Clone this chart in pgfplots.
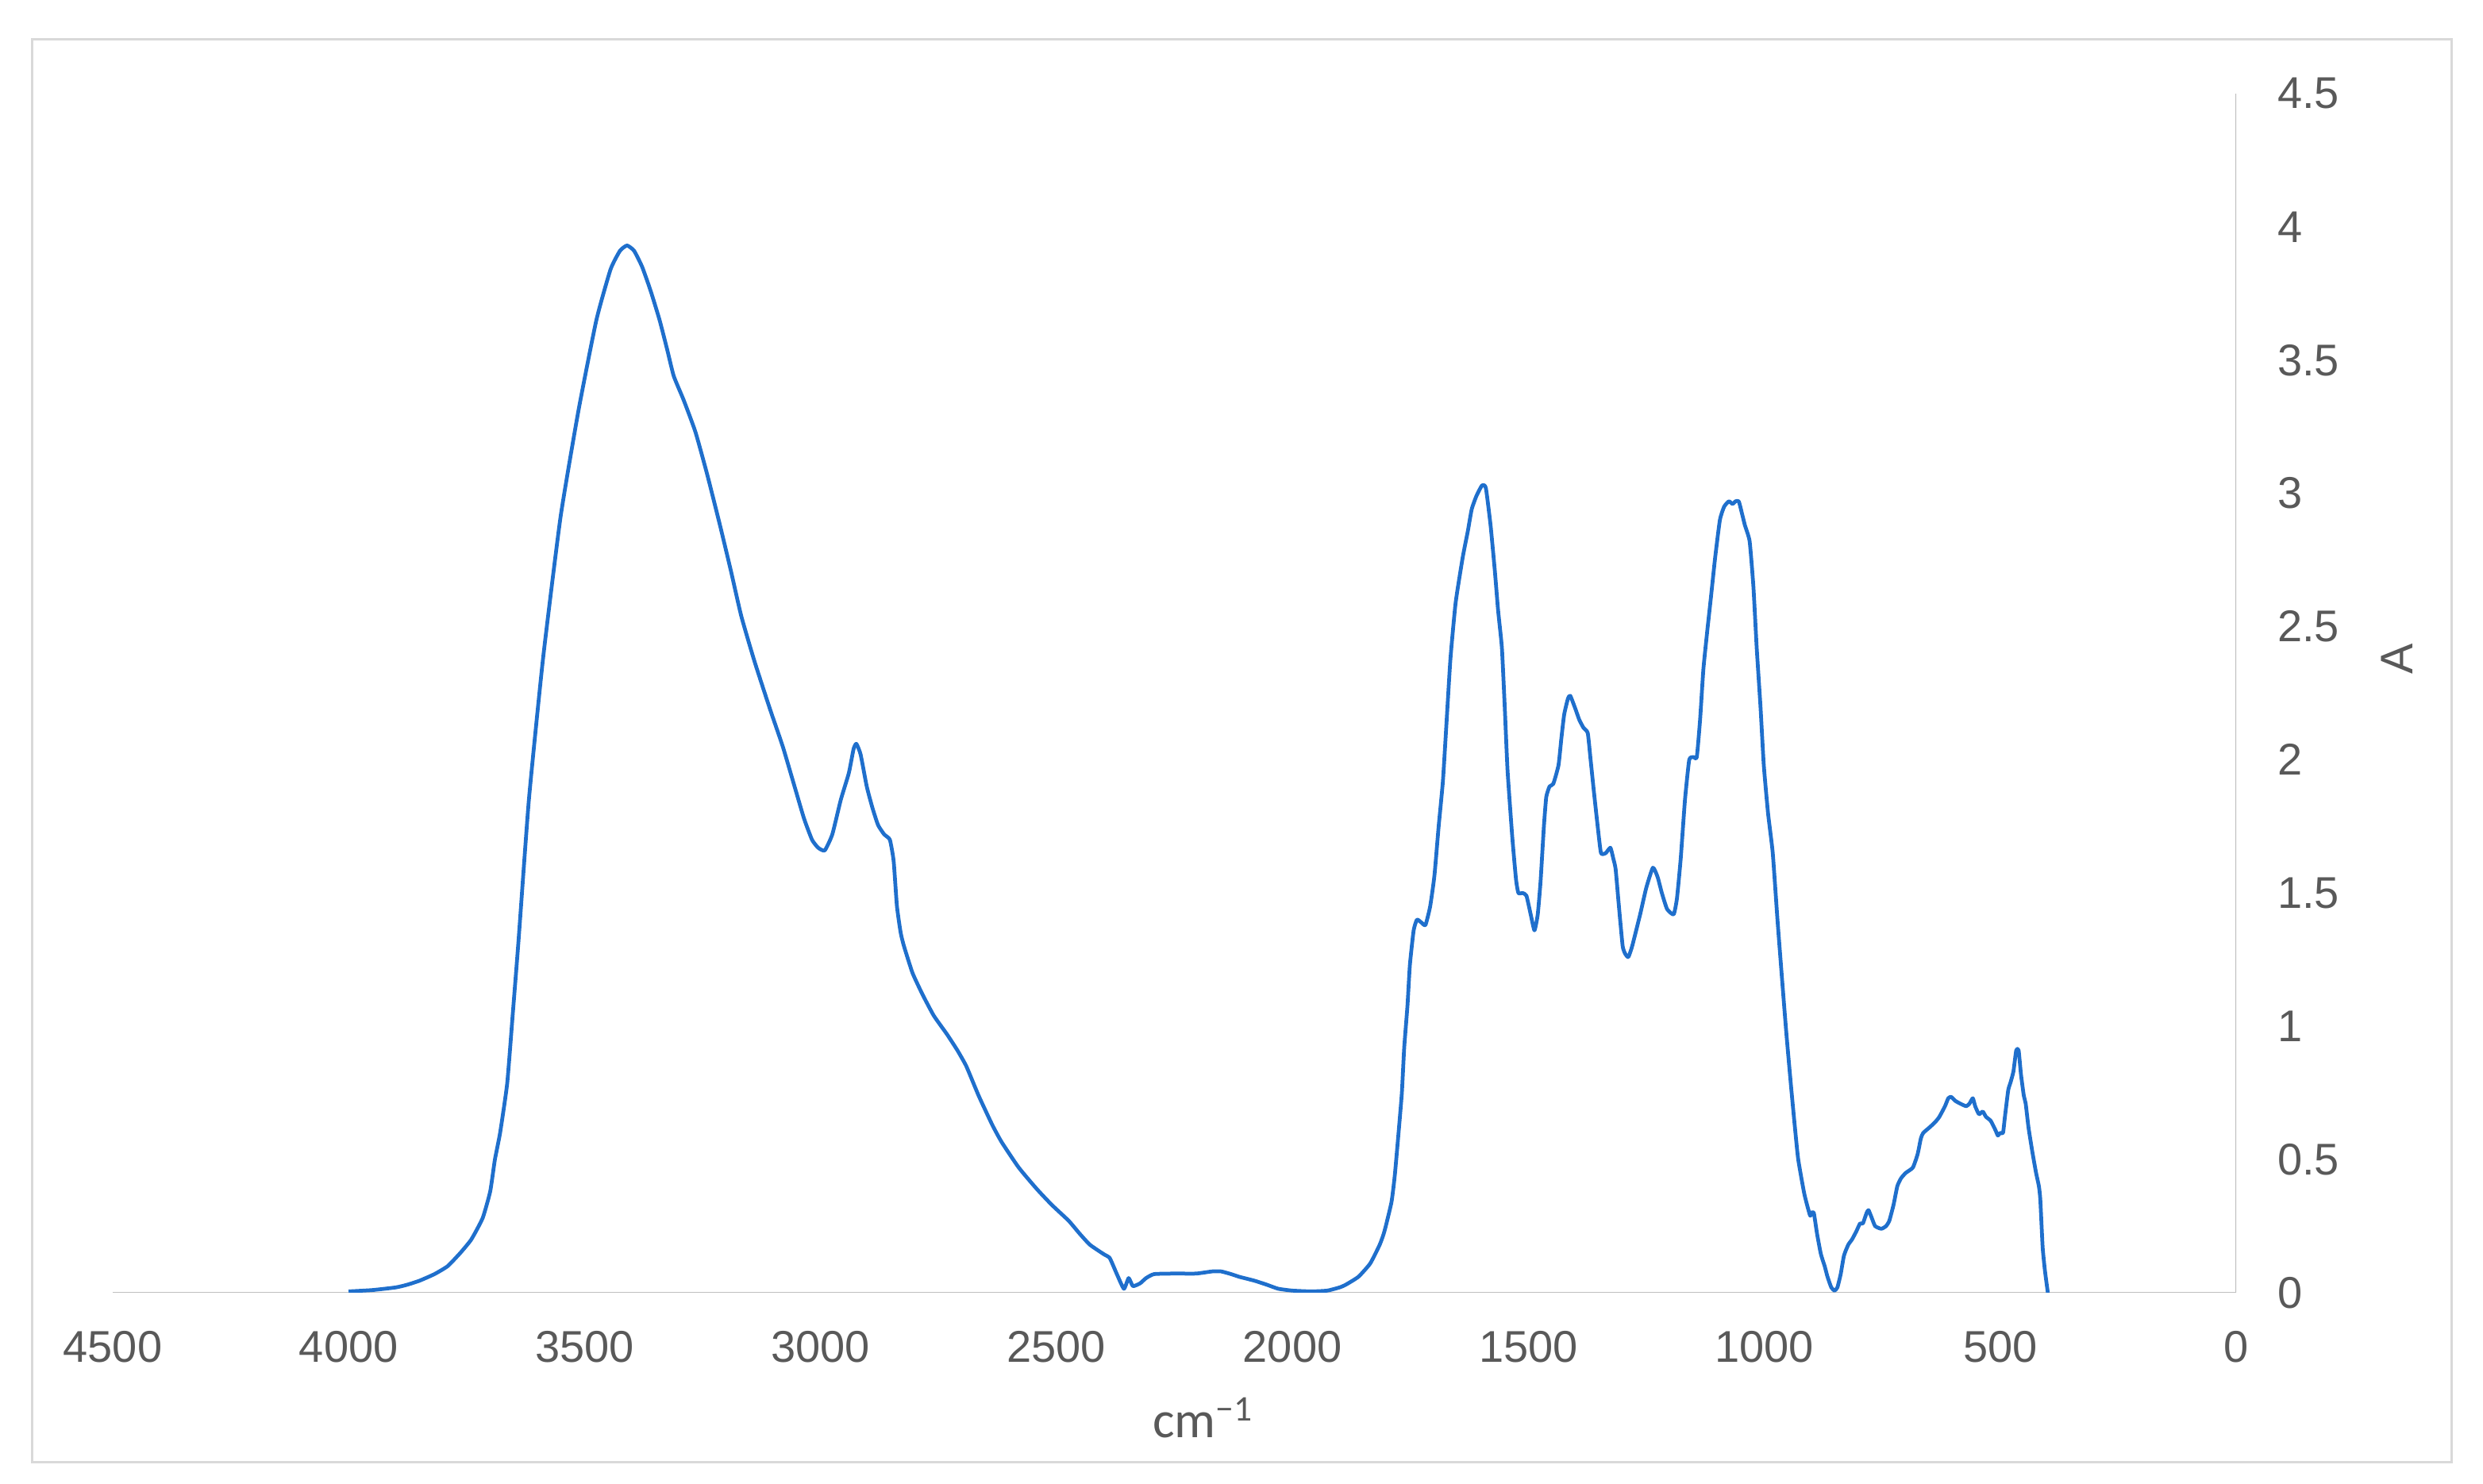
\documentclass[border=0pt]{standalone}
\usepackage{fontspec}
\setmainfont{Liberation Sans}
\newfontfamily\calfont{Carlito}
\usepackage{pgfplots}
\pgfplotsset{compat=1.18}
\usepackage{pgfplotstable}
\definecolor{txtgray}{HTML}{595959}
\definecolor{axgray}{HTML}{BFBFBF}
\definecolor{framegray}{HTML}{D9D9D9}
\definecolor{lineblue}{HTML}{1F6FCC}

\pgfplotstableread{
x y
4000 0.005
3950 0.01
3900 0.02
3876 0.03
3850 0.045
3818 0.07
3790 0.1
3763 0.15
3740 0.2
3716 0.28
3700 0.38
3690 0.5
3679 0.6
3664 0.785
3652 1.05
3640 1.32
3618 1.85
3588 2.38
3551 2.91
3513 3.31
3475 3.65
3445 3.84
3425 3.91
3410 3.93
3395 3.91
3378 3.85
3360 3.76
3341 3.65
3325 3.54
3311 3.44
3290 3.35
3265 3.23
3240 3.07
3213 2.88
3190 2.71
3168 2.54
3140 2.37
3107 2.19
3080 2.05
3055 1.90
3035 1.78
3018 1.70
3005 1.67
2991 1.66
2975 1.72
2957 1.85
2940 1.95
2930 2.04
2924 2.06
2915 2.02
2902 1.90
2890 1.82
2878 1.755
2865 1.72
2853 1.70
2845 1.62
2838 1.45
2830 1.35
2823 1.30
2805 1.20
2784 1.12
2760 1.04
2732 0.97
2710 0.91
2691 0.85
2665 0.74
2636 0.63
2616 0.565
2580 0.47
2542 0.39
2510 0.33
2474 0.27
2450 0.22
2429 0.18
2400 0.145
2387 0.13
2372 0.07
2357 0.015
2347 0.055
2338 0.025
2323 0.035
2310 0.055
2293 0.07
2250 0.072
2204 0.072
2170 0.08
2151 0.08
2130 0.07
2113 0.06
2080 0.045
2054 0.03
2030 0.015
2000 0.008
1960 0.005
1926 0.008
1900 0.02
1887 0.03
1860 0.06
1835 0.11
1815 0.18
1805 0.23
1790 0.34
1783 0.44
1775 0.6
1768 0.75
1763 0.92
1756 1.08
1751 1.23
1743 1.36
1736 1.40
1727 1.39
1718 1.38
1708 1.45
1699 1.565
1690 1.75
1681 1.92
1673 2.15
1665 2.38
1654 2.59
1639 2.76
1628 2.86
1620 2.94
1610 2.99
1598 3.03
1590 3.02
1580 2.88
1571 2.71
1564 2.56
1556 2.42
1550 2.2
1544 1.96
1534 1.71
1526 1.55
1521 1.50
1512 1.50
1504 1.49
1495 1.42
1487 1.36
1480 1.42
1474 1.545
1467 1.75
1462 1.86
1455 1.90
1447 1.91
1436 1.98
1430 2.08
1424 2.17
1416 2.23
1411 2.24
1400 2.19
1392 2.15
1383 2.12
1374 2.10
1368 2.00
1361 1.88
1353 1.75
1346 1.65
1336 1.65
1326 1.67
1320 1.63
1315 1.59
1308 1.45
1300 1.30
1294 1.27
1288 1.26
1280 1.30
1263 1.42
1250 1.52
1236 1.595
1226 1.56
1217 1.50
1206 1.44
1192 1.42
1185 1.48
1177 1.63
1168 1.85
1159 2.00
1150 2.01
1143 2.01
1136 2.15
1129 2.34
1121 2.48
1113 2.61
1104 2.76
1094 2.90
1085 2.95
1075 2.97
1067 2.96
1061 2.97
1054 2.97
1048 2.93
1041 2.88
1031 2.82
1023 2.65
1016 2.42
1008 2.20
1001 1.98
992 1.80
982 1.65
972 1.40
962 1.17
953 0.97
943 0.77
935 0.62
928 0.50
915 0.37
903 0.29
900 0.30
895 0.30
888 0.22
880 0.145
872 0.1
866 0.06
858 0.02
851 0.008
845 0.02
838 0.07
831 0.14
822 0.18
814 0.2
805 0.23
797 0.26
791 0.26
783 0.30
779 0.31
772 0.28
765 0.25
752 0.24
742 0.25
735 0.27
726 0.33
718 0.40
710 0.43
700 0.45
685 0.47
675 0.52
668 0.58
663 0.60
650 0.62
638 0.64
629 0.66
617 0.70
610 0.73
604 0.735
595 0.72
585 0.71
572 0.70
565 0.71
558 0.73
553 0.70
545 0.67
537 0.68
530 0.66
520 0.645
510 0.61
505 0.59
500 0.60
494 0.60
490 0.66
483 0.76
478 0.79
472 0.83
466 0.91
461 0.91
456 0.82
450 0.74
446 0.71
440 0.62
432 0.53
424 0.45
418 0.40
415 0.35
410 0.17
405 0.08
399 0.0
}\spectrum

\begin{document}
\begin{tikzpicture}
\useasboundingbox (0,0) rectangle (625.6pt,374pt);
\draw[framegray, line width=0.6pt] (8pt,5.4pt) rectangle (617.6pt,364pt);
\begin{axis}[
  at={(28.4pt,48.2pt)}, anchor=south west,
  scale only axis, width=535pt, height=302.2pt,
  xmin=0, xmax=4500, ymin=0, ymax=4.5,
  x dir=reverse,
  xtick={0,500,...,4500},
  ytick={0,0.5,1,1.5,2,2.5,3,3.5,4,4.5},
  axis line style={draw=none},
  major tick length=0pt,
  /pgf/number format/assume math mode=true,
  /pgf/number format/set thousands separator={},
  tick label style={font=\fontsize{11.2}{13}\selectfont, text=txtgray},
  xticklabel style={anchor=north, inner sep=0pt, yshift=-9.4pt},
  yticklabel pos=right,
  yticklabel style={anchor=west, inner sep=0pt, xshift=10.2pt},
]
\draw[axgray, line width=0.5pt] (axis cs:4500,0) -- (axis cs:0,0) -- (axis cs:0,4.5);
\addplot[lineblue, line width=0.95pt, line join=round, smooth, tension=0.3] table[x=x, y=y] {\spectrum};
\end{axis}
\node[anchor=base west, inner sep=0pt, text=txtgray, font=\calfont\fontsize{13}{15}\selectfont] at (290.2pt,11.6pt) {cm\textsuperscript{\char"2212 1}};
\node[rotate=90, anchor=base, inner sep=0pt, text=txtgray, font=\fontsize{11.5}{13}\selectfont] at (607.8pt,208pt) {A};
\end{tikzpicture}
\end{document}
